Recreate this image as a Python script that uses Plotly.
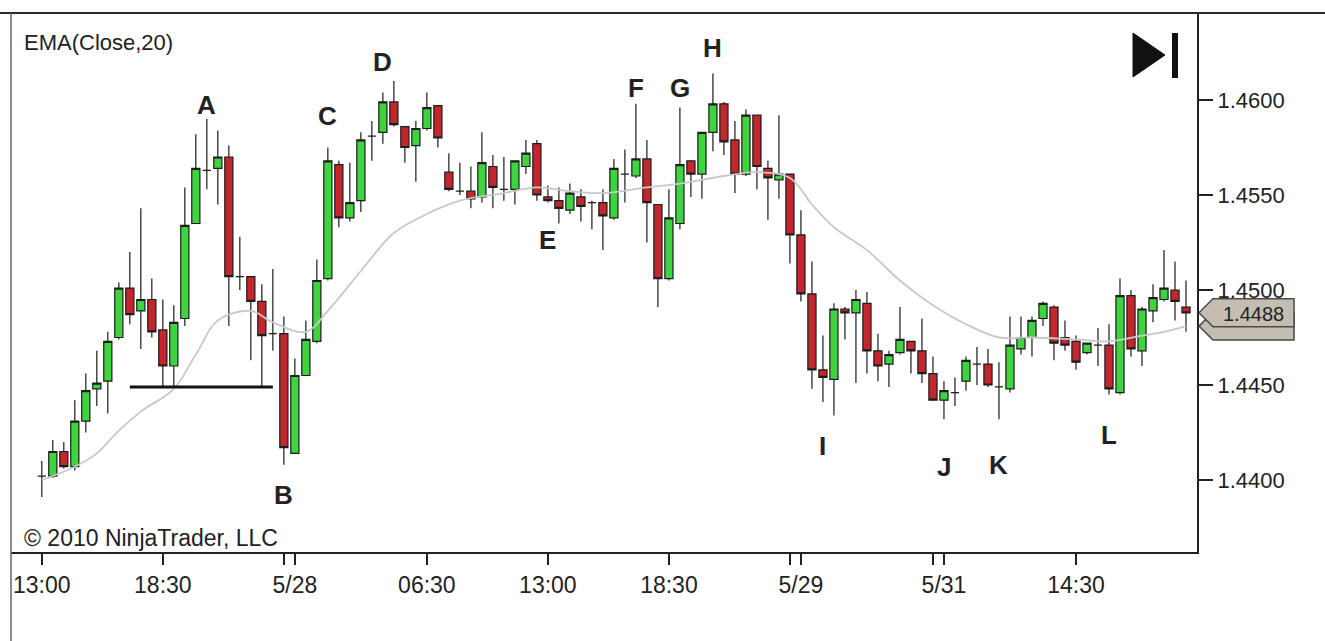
"""EUR/USD 30-min candles with EMA(Close,20), NinjaTrader style, labelled swing points."""
import plotly.graph_objects as go

# ---- data ---------------------------------------------------------------- #
BARS = list(range(105))

OPENS = [
    1.4402, 1.4402, 1.4415, 1.4407, 1.4431, 1.4448, 1.4452, 1.4475, 1.4501, 1.4489,
    1.4495, 1.4479, 1.4460, 1.4485, 1.4535, 1.4563, 1.4564, 1.4570, 1.4507, 1.4507,
    1.4494, 1.4477, 1.4477, 1.4414, 1.4455, 1.4473, 1.4506, 1.4566, 1.4538, 1.4547,
    1.4581, 1.4583, 1.4599, 1.4586, 1.4576, 1.4585, 1.4597, 1.4562, 1.4552, 1.4552,
    1.4549, 1.4565, 1.4553, 1.4553, 1.4565, 1.4577, 1.4549, 1.4547, 1.4542, 1.4549,
    1.4546, 1.4546, 1.4538, 1.4561, 1.4560, 1.4569, 1.4545, 1.4506, 1.4535, 1.4568,
    1.4561, 1.4583, 1.4598, 1.4579, 1.4561, 1.4592, 1.4564, 1.4558, 1.4561, 1.4529,
    1.4498, 1.4458, 1.4453, 1.4490, 1.4488, 1.4493, 1.4468, 1.4461, 1.4467, 1.4473,
    1.4468, 1.4456, 1.4442, 1.4446, 1.4452, 1.4461, 1.4461, 1.4449, 1.4448, 1.4469,
    1.4475, 1.4485, 1.4491, 1.4475, 1.4473, 1.4467, 1.4471, 1.4471, 1.4446, 1.4497,
    1.4468, 1.4489, 1.4495, 1.4500, 1.4491,
]
HIGHS = [
    1.4410, 1.4421, 1.4420, 1.4442, 1.4456, 1.4468, 1.4478, 1.4504, 1.4520, 1.4543,
    1.4506, 1.4495, 1.4492, 1.4554, 1.4582, 1.4590, 1.4584, 1.4576, 1.4528, 1.4507,
    1.4503, 1.4511, 1.4486, 1.4464, 1.4484, 1.4516, 1.4575, 1.4568, 1.4567, 1.4583,
    1.4589, 1.4604, 1.4610, 1.4586, 1.4589, 1.4604, 1.4597, 1.4572, 1.4567, 1.4565,
    1.4583, 1.4571, 1.4570, 1.4568, 1.4579, 1.4579, 1.4555, 1.4554, 1.4556, 1.4553,
    1.4547, 1.4553, 1.4569, 1.4574, 1.4598, 1.4579, 1.4545, 1.4553, 1.4596, 1.4568,
    1.4583, 1.4614, 1.4599, 1.4589, 1.4595, 1.4592, 1.4568, 1.4592, 1.4561, 1.4542,
    1.4515, 1.4476, 1.4493, 1.4491, 1.4500, 1.4499, 1.4477, 1.4468, 1.4491, 1.4473,
    1.4485, 1.4465, 1.4452, 1.4454, 1.4465, 1.4470, 1.4469, 1.4462, 1.4486, 1.4486,
    1.4486, 1.4494, 1.4492, 1.4484, 1.4476, 1.4472, 1.4480, 1.4482, 1.4506, 1.4500,
    1.4491, 1.4503, 1.4521, 1.4515, 1.4505,
]
LOWS = [
    1.4391, 1.4401, 1.4406, 1.4405, 1.4425, 1.4439, 1.4435, 1.4474, 1.4482, 1.4469,
    1.4475, 1.4449, 1.4449, 1.4481, 1.4535, 1.4553, 1.4545, 1.4481, 1.4500, 1.4463,
    1.4449, 1.4468, 1.4408, 1.4414, 1.4455, 1.4472, 1.4505, 1.4533, 1.4536, 1.4541,
    1.4568, 1.4577, 1.4586, 1.4567, 1.4557, 1.4584, 1.4575, 1.4552, 1.4550, 1.4543,
    1.4546, 1.4543, 1.4547, 1.4545, 1.4561, 1.4547, 1.4546, 1.4535, 1.4540, 1.4536,
    1.4532, 1.4521, 1.4537, 1.4546, 1.4559, 1.4525, 1.4491, 1.4505, 1.4532, 1.4549,
    1.4548, 1.4573, 1.4571, 1.4551, 1.4560, 1.4553, 1.4537, 1.4548, 1.4514, 1.4494,
    1.4448, 1.4441, 1.4434, 1.4474, 1.4451, 1.4456, 1.4452, 1.4449, 1.4466, 1.4456,
    1.4451, 1.4442, 1.4432, 1.4439, 1.4447, 1.4450, 1.4449, 1.4432, 1.4446, 1.4466,
    1.4465, 1.4481, 1.4463, 1.4468, 1.4458, 1.4466, 1.4460, 1.4445, 1.4445, 1.4465,
    1.4460, 1.4483, 1.4494, 1.4484, 1.4478,
]
CLOSES = [
    1.4402, 1.4415, 1.4407, 1.4431, 1.4447, 1.4451, 1.4473, 1.4501, 1.4487, 1.4495,
    1.4478, 1.4460, 1.4483, 1.4534, 1.4564, 1.4563, 1.4570, 1.4507, 1.4507, 1.4494,
    1.4476, 1.4477, 1.4417, 1.4455, 1.4474, 1.4505, 1.4568, 1.4538, 1.4546, 1.4579,
    1.4581, 1.4599, 1.4587, 1.4575, 1.4585, 1.4596, 1.4580, 1.4553, 1.4552, 1.4548,
    1.4567, 1.4554, 1.4553, 1.4568, 1.4572, 1.4550, 1.4547, 1.4543, 1.4551, 1.4544,
    1.4546, 1.4539, 1.4564, 1.4561, 1.4569, 1.4546, 1.4506, 1.4538, 1.4566, 1.4561,
    1.4583, 1.4598, 1.4578, 1.4561, 1.4592, 1.4565, 1.4559, 1.4561, 1.4529, 1.4498,
    1.4458, 1.4454, 1.4490, 1.4488, 1.4495, 1.4468, 1.4460, 1.4466, 1.4474, 1.4468,
    1.4456, 1.4442, 1.4447, 1.4446, 1.4463, 1.4461, 1.4450, 1.4449, 1.4471, 1.4475,
    1.4484, 1.4493, 1.4472, 1.4471, 1.4462, 1.4472, 1.4471, 1.4448, 1.4497, 1.4469,
    1.4490, 1.4496, 1.4501, 1.4494, 1.4488,
]

# EMA(Close,20) as drawn, sampled at these bars
EMA_BARS = [0, 3, 5, 7, 9, 12, 14, 16, 19, 21, 24, 26, 29, 32, 35, 38, 42, 45, 48, 51,
            55, 58, 62, 65, 68, 70, 72, 75, 78, 81, 84, 87, 90, 94, 97, 100, 102, 104]
EMA_VALUES = [1.4400, 1.4407, 1.4414, 1.4426, 1.4436, 1.4448, 1.4466, 1.4484, 1.4489, 1.4483,
              1.4478, 1.4489, 1.4510, 1.4530, 1.4540, 1.4547, 1.4551, 1.4554, 1.4552, 1.4551,
              1.4554, 1.4556, 1.4560, 1.4562, 1.4559, 1.4545, 1.4533, 1.4521, 1.4505, 1.4492,
              1.4482, 1.4475, 1.4475, 1.4474, 1.4473, 1.4476, 1.4478, 1.4481]

# time axis labels (double ticks mark session/day breaks)
TICK_BARS = [0, 11, 22, 23, 35, 46, 57, 68, 69, 81, 82, 94]
TICK_TEXT = ["13:00", "18:30", "", "5/28", "06:30", "13:00", "18:30", "", "5/29", "", "5/31", "14:30"]

PRICE_TICKS = [1.4400, 1.4450, 1.4500, 1.4550, 1.4600]

# swing labels: letter, bar, anchored to high or low, pixel offset
SWING_LABELS = [
    ("A", 15, "high", 14), ("B", 22, "low", -30), ("C", 26, "high", 32),
    ("D", 31, "high", 30), ("E", 46, "low", -37), ("F", 54, "high", 16),
    ("G", 58, "high", 20), ("H", 61, "high", 25), ("I", 71, "low", -44),
    ("J", 82, "low", -48), ("K", 87, "low", -46), ("L", 97, "low", -40),
]
SUPPORT_FROM, SUPPORT_TO, SUPPORT_BAR = 8, 21, 20

# ---- styling ----------------------------------------------------------- #
W, H = 1325, 641
ML, MR, MT, MB = 11, 128, 13, 89
PW, PH = W - ML - MR, H - MT - MB
X_RANGE = [-2.8, 105.0]
Y_RANGE = [1.43621, 1.46458]

UP = "#3fd43f"
DOWN = "#c1272d"
EDGE = "#1c1c1c"
EMA_COL = "#c8c8c8"
TAG = "#c4bdb1"
FONT = "Liberation Sans, Arial, sans-serif"


def px_to_price(dpx: float) -> float:
    return dpx * (Y_RANGE[1] - Y_RANGE[0]) / PH


def px_to_paper_x(px: float) -> float:
    return (px - ML) / PW


def px_to_paper_y(py: float) -> float:
    return (H - MB - py) / PH


fig = go.Figure()

fig.add_trace(go.Scatter(
    x=EMA_BARS, y=EMA_VALUES, mode="lines", line=dict(color=EMA_COL, width=1.8, shape="spline"),
    hoverinfo="skip", showlegend=False,
))
fig.add_trace(go.Candlestick(
    x=BARS, open=OPENS, high=HIGHS, low=LOWS, close=CLOSES,
    increasing=dict(line=dict(color=EDGE, width=1.2), fillcolor=UP),
    decreasing=dict(line=dict(color=EDGE, width=1.2), fillcolor=DOWN),
    whiskerwidth=0, showlegend=False,
))

# support line under the first pullback
fig.add_shape(type="line", xref="x", yref="y",
              x0=SUPPORT_FROM, x1=SUPPORT_TO, y0=LOWS[SUPPORT_BAR], y1=LOWS[SUPPORT_BAR],
              line=dict(color="#111", width=3))

# swing letters
for letter, bar, side, shift in SWING_LABELS:
    yv = HIGHS[bar] if side == "high" else LOWS[bar]
    fig.add_annotation(x=bar, y=yv, text=f"<b>{letter}</b>", showarrow=False,
                       yshift=shift, font=dict(size=26, color="#222", family=FONT))

# price tags on the right axis: EMA behind, last close in front
half = px_to_price(14)
for val in (EMA_VALUES[-1], CLOSES[-1]):
    x_tip, x_box, x_end = px_to_paper_x(1199), px_to_paper_x(1213), px_to_paper_x(1294)
    path = (f"M {x_tip},{val} L {x_box},{val + half} L {x_end},{val + half} "
            f"L {x_end},{val - half} L {x_box},{val - half} Z")
    fig.add_shape(type="path", xref="paper", yref="y", path=path,
                  fillcolor=TAG, line=dict(color="#4a4a4a", width=1.5))
fig.add_annotation(xref="paper", yref="y", x=px_to_paper_x(1253), y=CLOSES[-1], yshift=-1,
                   xanchor="center", yanchor="middle", text=f"{CLOSES[-1]:.4f}", showarrow=False,
                   font=dict(size=20, color="#222", family=FONT))

# frame lines of the chart panel
fig.add_shape(type="line", xref="paper", yref="paper", x0=px_to_paper_x(0), x1=px_to_paper_x(W),
              y0=1, y1=1, line=dict(color="#2a2a2a", width=2))
fig.add_shape(type="line", xref="paper", yref="paper", x0=0, x1=0,
              y0=px_to_paper_y(H), y1=1, line=dict(color="#666", width=1.5))

# "go to last bar" icon
tx0, tx1 = px_to_paper_x(1133), px_to_paper_x(1165)
ty0, ty1, tym = px_to_paper_y(77), px_to_paper_y(33), px_to_paper_y(55)
fig.add_shape(type="path", xref="paper", yref="paper",
              path=f"M {tx0},{ty0} L {tx0},{ty1} L {tx1},{tym} Z",
              fillcolor="#111", line=dict(color="#111", width=1))
fig.add_shape(type="rect", xref="paper", yref="paper",
              x0=px_to_paper_x(1172), x1=px_to_paper_x(1178),
              y0=px_to_paper_y(78), y1=px_to_paper_y(33),
              fillcolor="#111", line=dict(width=0))

fig.add_annotation(xref="paper", yref="paper", x=px_to_paper_x(22), y=px_to_paper_y(42),
                   xanchor="left", yanchor="middle", showarrow=False, text="EMA(Close,20)",
                   font=dict(size=22, color="#222", family=FONT))
fig.add_annotation(xref="paper", yref="paper", x=px_to_paper_x(22), y=px_to_paper_y(538),
                   xanchor="left", yanchor="middle", showarrow=False, text="© 2010 NinjaTrader, LLC",
                   font=dict(size=23, color="#222", family=FONT))

fig.update_layout(
    width=W, height=H, margin=dict(l=ML, r=MR, t=MT, b=MB),
    paper_bgcolor="white", plot_bgcolor="white", showlegend=False,
    boxgap=0.26, boxgroupgap=0, hovermode=False,
    font=dict(family=FONT, color="#222"),
)
fig.update_xaxes(
    range=X_RANGE, rangeslider_visible=False, showgrid=False, zeroline=False,
    tickmode="array", tickvals=TICK_BARS, ticktext=TICK_TEXT,
    ticks="outside", ticklen=11, tickwidth=1.5, tickcolor="#222",
    showline=True, linecolor="#222", linewidth=2,
    tickfont=dict(size=23, color="#222", family=FONT),
)
fig.update_yaxes(
    range=Y_RANGE, side="right", showgrid=False, zeroline=False,
    tickmode="array", tickvals=PRICE_TICKS, ticktext=[f"{v:.4f}" for v in PRICE_TICKS],
    ticks="outside", ticklen=14, tickwidth=1.5, tickcolor="#222",
    showline=True, linecolor="#222", linewidth=2,
    tickfont=dict(size=22, color="#222", family=FONT),
)

# the page body has a default 8px margin; drop it so the figure sits at the window origin
fig.write_html("out.html", config={"displayModeBar": False},
               post_script="document.body.style.margin = '0';")
